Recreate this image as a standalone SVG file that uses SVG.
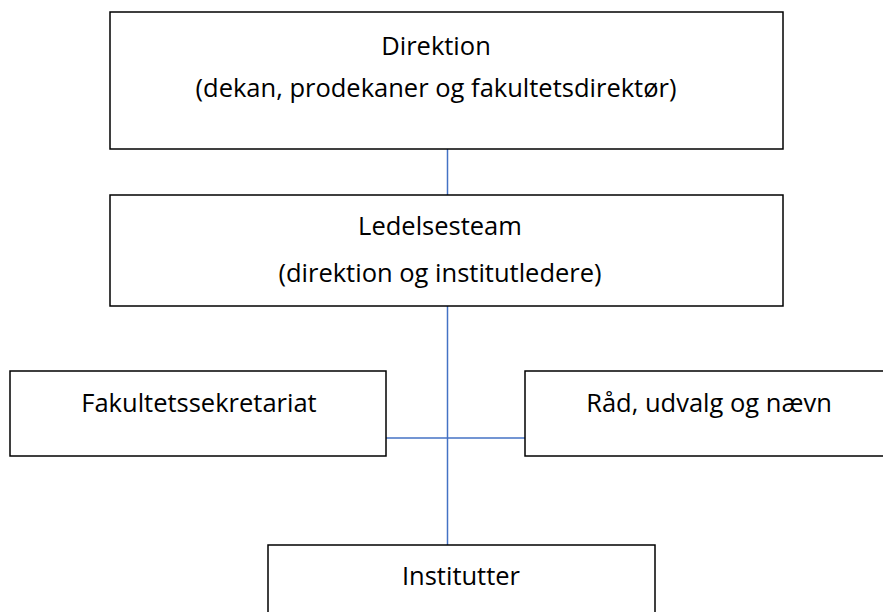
<svg xmlns="http://www.w3.org/2000/svg" width="883" height="612" viewBox="0 0 883 612">
<style>
.box{fill:#fff;stroke:#000;stroke-width:1.5}
.lbl{font-family:"Open Sans","Noto Sans","Liberation Sans",sans-serif;font-size:25.5px;fill:#000;text-anchor:middle}
.conn{stroke:#4472C4;stroke-width:1.5;fill:none}
</style>
<rect width="883" height="612" fill="#fff"/>
<g id="connectors">
<line class="conn" x1="447.5" y1="149" x2="447.5" y2="195"/>
<line class="conn" x1="447.5" y1="306" x2="447.5" y2="545"/>
<line class="conn" x1="386" y1="438" x2="525" y2="438"/>
</g>
<g id="direktion">
<rect class="box" x="110" y="12" width="673" height="137"/>
<text class="lbl" x="436" y="55">Direktion</text>
<text class="lbl" x="436" y="97">(dekan, prodekaner og fakultetsdirektør)</text>
</g>
<g id="ledelsesteam">
<rect class="box" x="110" y="195" width="673" height="111"/>
<text class="lbl" x="440" y="235">Ledelsesteam</text>
<text class="lbl" x="440" y="282">(direktion og institutledere)</text>
</g>
<g id="fakultetssekretariat">
<rect class="box" x="10" y="371" width="376" height="85"/>
<text class="lbl" x="199" y="412">Fakultetssekretariat</text>
</g>
<g id="raad">
<rect class="box" x="525" y="371" width="370" height="85"/>
<text class="lbl" x="709" y="412">Råd, udvalg og nævn</text>
</g>
<g id="institutter">
<rect class="box" x="268" y="545" width="387" height="80"/>
<text class="lbl" x="461" y="585">Institutter</text>
</g>
</svg>
